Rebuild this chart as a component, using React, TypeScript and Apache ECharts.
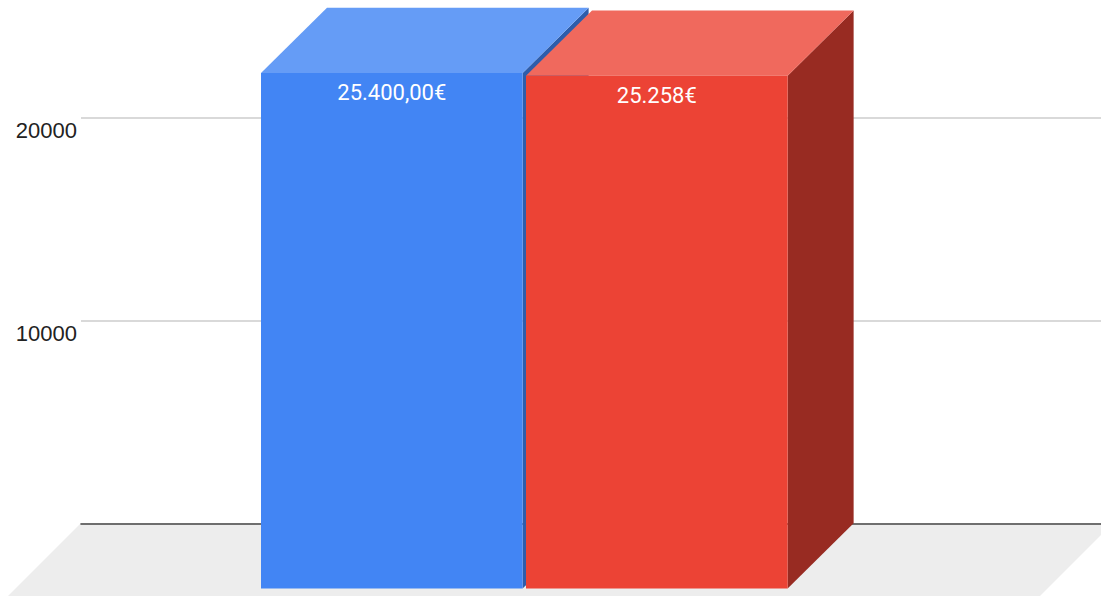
import React, { useEffect, useRef } from "react";
import * as echarts from "echarts";

const categories = ["Total"];
const seriesNames = ["A", "B"];
const blueValues = [25400];
const redValues = [25258];
const blueLabels = ["25.400,00€"];
const redLabels = ["25.258€"];
const yTicks = { min: 0, max: 25000, interval: 10000 };

const DEPTH_X = 66;
const DEPTH_Y = 65.3;
const BAR_FRACTION = 0.2565;

function bar3d(
  colors: { front: string; top: string; side: string },
  labels: string[],
  backLeftFromCenter: number
) {
  return (params: any, api: any) => {
    const base = api.coord([api.value(0), 0]);
    const topPt = api.coord([api.value(0), api.value(1)]);
    const w = api.size([1, 0])[0] * BAR_FRACTION;
    const bl = base[0] + backLeftFromCenter;
    const br = bl + w;
    const fl = bl - DEPTH_X;
    const fr = br - DEPTH_X;
    const backTop = topPt[1];
    const frontTop = backTop + DEPTH_Y;
    const frontBottom = base[1] + DEPTH_Y;
    return {
      type: "group",
      children: [
        {
          type: "polygon",
          shape: { points: [[fr, frontTop], [br, backTop], [br, base[1]], [fr, frontBottom]] },
          style: { fill: colors.side },
        },
        {
          type: "polygon",
          shape: { points: [[fl, frontTop], [bl, backTop], [br, backTop], [fr, frontTop]] },
          style: { fill: colors.top },
        },
        {
          type: "rect",
          shape: { x: fl, y: frontTop, width: w, height: frontBottom - frontTop },
          style: { fill: colors.front },
        },
        {
          type: "text",
          x: (fl + fr) / 2,
          y: frontTop + 20,
          style: {
            text: labels[params.dataIndex],
            fill: "#ffffff",
            font: "22px Roboto, Arial, sans-serif",
            align: "center",
            verticalAlign: "middle",
          },
        },
      ],
    };
  };
}

export default function App() {
  const ref = useRef<HTMLDivElement>(null);
  useEffect(() => {
    document.body.style.margin = "0";
    const chart = echarts.init(ref.current!, null, { renderer: "svg" });
    chart.setOption({
      animation: false,
      backgroundColor: "#ffffff",
      grid: { left: 81, right: 0, top: 15.8, height: 507.5 },
      graphic: [
        {
          type: "polygon",
          z: -10,
          shape: { points: [[81, 523], [1113, 523], [1040, 596], [8, 596]] },
          style: { fill: "#ededed" },
        },
      ],
      xAxis: {
        type: "category",
        data: categories,
        axisLine: { show: true, lineStyle: { color: "#444444", width: 1.6 } },
        axisTick: { show: false },
        axisLabel: { show: false },
      },
      yAxis: {
        type: "value",
        min: yTicks.min,
        max: yTicks.max,
        interval: yTicks.interval,
        axisLine: { show: false },
        axisTick: { show: false },
        splitLine: { show: true, showMinLine: false, showMaxLine: false, lineStyle: { color: "#cccccc", width: 1.5 } },
        axisLabel: {
          showMinLabel: false,
          showMaxLabel: false,
          margin: 4,
          color: "#222222",
          fontSize: 22,
          fontFamily: "'Liberation Sans', Arial, sans-serif",
          verticalAlign: "top",
          padding: [2, 0, 0, 0],
          formatter: (v: number) => String(v),
        },
      },
      series: [
        {
          type: "custom",
          name: seriesNames[0],
          clip: false,
          data: categories.map((c, i) => [c, blueValues[i]]),
          encode: { x: 0, y: 1 },
          renderItem: bar3d({ front: "#4285f4", top: "#659cf6", side: "#2e5dab" }, blueLabels, -264),
        },
        {
          type: "custom",
          name: seriesNames[1],
          clip: false,
          data: categories.map((c, i) => [c, redValues[i]]),
          encode: { x: 0, y: 1 },
          renderItem: bar3d({ front: "#ec4335", top: "#f0695d", side: "#982b22" }, redLabels, 1),
        },
      ],
    });
    return () => chart.dispose();
  }, []);
  return <div ref={ref} style={{ width: 1101, height: 596 }} />;
}
